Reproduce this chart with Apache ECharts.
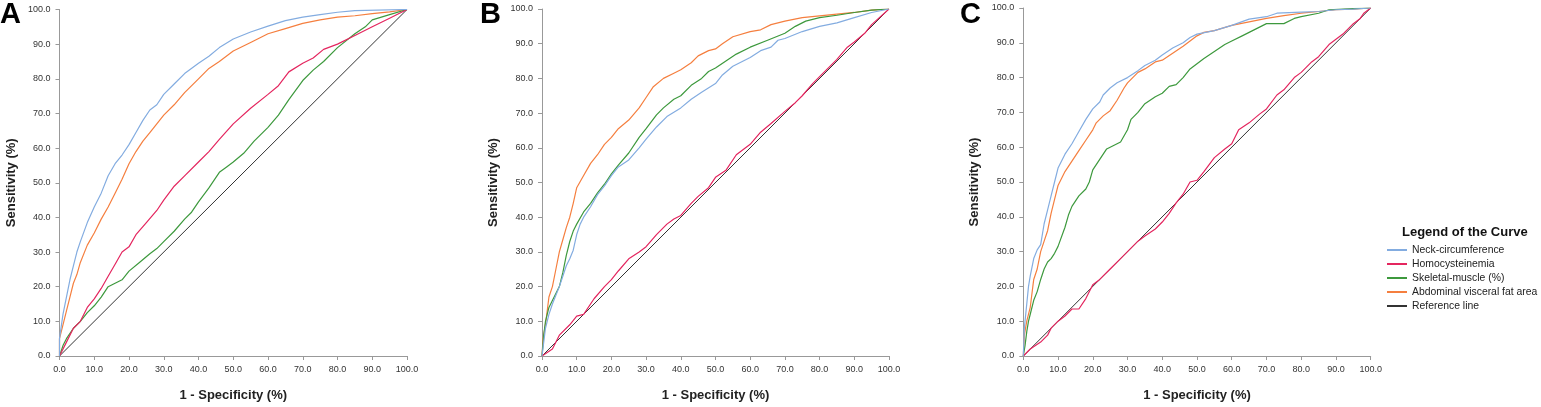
<!DOCTYPE html>
<html>
<head>
<meta charset="utf-8">
<script src="https://cdn.jsdelivr.net/npm/echarts@6/dist/echarts.min.js"></script>
<style>
  html, body { margin: 0; padding: 0; background: #fff; }
  #main { width: 1541px; height: 407px; }
</style>
</head>
<body>
<div id="main"></div>
<script>
// curve names, in legend order
var curveNames = ['Neck-circumference', 'Homocysteinemia', 'Skeletal-muscle (%)', 'Abdominal visceral fat area', 'Reference line'];
var curveColors = ['#83ace0', '#e4265f', '#3d993d', '#f57f3f', '#333333'];
var panelLabels = ['A', 'B', 'C'];

// [1 - specificity, sensitivity]
// panel A
var aNeck = [[0,0],[0,5],[1,12],[2,17],[3,22],[4,26],[5,30],[6,33],[8,38.5],[10,43],[12,47],[14,52],[16,55.5],[18,58],[20,61],[22,64.5],[24,68],[26,71],[28,72.5],[30,75.5],[33,78.5],[36,81.5],[40,84.5],[43,86.5],[46,89],[50,91.5],[55,93.5],[60,95.2],[65,96.8],[70,97.8],[75,98.5],[80,99.2],[85,99.7],[100,100]];
var aHcy = [[0,0],[2,4],[4,8],[6,10],[8,14],[10,16.5],[12,19.5],[14,23],[16,26.5],[18,30],[20,31.5],[22,35],[25,38.5],[28,42],[30,45],[33,49],[36,52],[40,56],[43,59],[46,62.5],[50,67],[55,71.5],[60,75.5],[63,78],[66,82],[70,84.5],[73,86],[76,88.5],[80,90],[85,92.5],[90,95],[95,97.5],[100,100]];
var aMuscle = [[0,0],[1,3],[2,5],[4,8],[6,10],[8,12.5],[10,14.5],[12,17],[14,20],[16,21],[18,22],[20,24.5],[23,27],[26,29.5],[28,31],[30,33],[33,36],[36,39.5],[38,41.5],[40,44.5],[43,48.5],[46,53],[48,54.5],[50,56],[53,58.5],[56,62],[60,66],[63,69.5],[66,74],[70,79.5],[73,82.5],[76,85],[80,89],[85,93],[88,95],[90,97],[95,98.5],[100,100]];
var aFat = [[0,0],[0,5],[1,9],[2,13],[3,17],[4,21],[5,23.5],[6,27],[8,32],[10,35.5],[12,39.5],[14,43],[16,47],[18,51],[20,55.5],[22,59],[24,62],[26,64.5],[28,67],[30,69.5],[33,72.5],[36,76],[40,80],[43,83],[46,85],[50,88],[55,90.5],[60,93],[65,94.5],[70,96],[75,97],[80,97.8],[85,98.2],[90,98.8],[95,99.3],[100,100]];

// panel B
var bNeck = [[0,0],[0.5,4],[1,8],[2,12],[3,15],[4,17.5],[5,20],[6,23],[7,26],[8,28],[9,30.5],[10,35],[11,38],[12,40],[14,43],[16,46.5],[18,49],[20,52],[22,54.5],[25,56.5],[28,60],[30,62.5],[33,66],[36,69],[40,71.5],[43,74],[46,76],[50,78.5],[52,81],[55,83.5],[58,85],[60,86],[63,88],[66,89],[68,91],[70,91.5],[75,93.5],[80,95],[85,96],[90,97.5],[95,99],[100,100]];
var bHcy = [[0,0],[3,2],[5,6],[8,9],[10,11.5],[12,12],[15,16.5],[18,20],[20,22],[22,24.5],[25,28],[28,30],[30,31.5],[33,35],[36,38],[38,39.5],[40,40.5],[43,44],[45,46],[48,48.5],[50,51.5],[53,53.5],[56,58],[58,59.5],[60,61],[63,64.5],[66,67],[70,70.5],[73,73],[75,75],[78,78.5],[80,80.5],[85,85.5],[88,89],[90,90.5],[93,93],[95,95.5],[100,100]];
var bMuscle = [[0,0],[0.5,6],[1,10],[2,14],[3,16],[4,18],[5,20],[6,24],[7,29],[8,33],[9,36],[10,38],[12,41.5],[14,44],[16,47],[18,49.5],[20,52.5],[22,55],[25,58.5],[28,63],[30,65.5],[33,69.5],[35,71.5],[38,74],[40,75],[43,78],[46,80],[48,82],[50,83],[53,85],[56,87],[60,89],[65,91],[70,93],[73,95],[76,96.5],[80,97.5],[85,98.2],[90,99],[95,99.7],[100,100]];
var bFat = [[0,0],[0.3,5],[1,9],[2,17],[3,20],[4,25],[5,30],[6,33.5],[7,37],[8,40],[9,44],[10,48.5],[12,52],[14,55.5],[16,58],[18,61],[20,63],[22,65.5],[25,68],[28,71.5],[30,74.5],[32,77.5],[35,80],[38,81.5],[40,82.5],[43,84.5],[45,86.5],[48,88],[50,88.5],[52,90],[55,92],[60,93.5],[63,94],[66,95.5],[70,96.5],[75,97.5],[80,98],[85,98.5],[90,99],[95,99.7],[100,100]];

// panel C
var cNeck = [[0,0],[0.3,8],[1,15],[1.5,20],[2,23],[3,28],[4,30.5],[5,32],[6,38],[7,42],[8,46],[9,50],[10,54],[12,58],[14,61],[16,64.5],[18,68],[20,71],[22,73],[23,75],[25,77],[27,78.5],[30,80],[33,82],[35,83.5],[38,85],[40,86.5],[43,88.5],[46,90],[48,91.5],[50,92.5],[55,93.5],[60,95],[65,96.8],[70,97.5],[73,98.5],[80,98.8],[85,99],[90,99.5],[95,99.7],[100,100]];
var cHcy = [[0,0],[2,2],[5,4],[7,6],[8,8],[10,10],[12,11.5],[14,13.5],[16,13.5],[18,16.5],[20,20.5],[22,22],[25,25],[28,28],[30,30],[33,33],[35,34.5],[38,36.5],[40,38.5],[42,41],[44,44],[46,46.5],[48,50],[50,50.5],[52,53],[55,57],[58,59.5],[60,61],[62,65],[65,67],[68,69.5],[70,71],[73,75],[75,76.5],[78,80],[80,81.5],[83,84.5],[85,86],[88,89.5],[90,91],[92,92.5],[95,95.5],[97,97],[98,98.5],[100,100]];
var cMuscle = [[0,0],[0.5,3],[1,7],[1.5,10],[2,12],[3,16],[4,18.5],[5,22],[6,25],[7,27],[8,28],[9,29.5],[10,31.5],[12,37],[13,40.5],[14,43],[16,46],[18,48],[19,50],[20,53.5],[22,56.5],[24,59.5],[26,60.5],[28,61.5],[30,65],[31,68],[33,70],[35,72.5],[38,74.5],[40,75.5],[42,77.5],[44,78],[46,80],[48,82.5],[50,84],[52,85.5],[55,87.5],[58,89.5],[60,90.5],[63,92],[65,93],[68,94.5],[70,95.5],[75,95.5],[78,97],[80,97.5],[85,98.5],[88,99.5],[95,99.8],[100,100]];
var cFat = [[0,0],[0.3,6],[1,10],[2,14],[3,22],[4,25],[5,30],[6,33],[7,36],[8,41],[9,45],[10,49],[12,53],[14,56],[16,59],[18,62],[20,65],[21,67],[23,69],[25,70.5],[27,73.5],[29,77],[30,78.5],[33,81.5],[35,82.5],[38,84.5],[40,85],[43,87],[46,89],[48,90.5],[50,92],[52,93],[55,93.5],[60,95],[65,96],[70,97],[75,97.8],[80,98.5],[85,99],[90,99.5],[95,99.7],[100,100]];

var refLine = [[0,0],[100,100]];

var panelCurves = [
    [aNeck, aHcy, aMuscle, aFat, refLine],
    [bNeck, bHcy, bMuscle, bFat, refLine],
    [cNeck, cHcy, cMuscle, cFat, refLine]
];

// plot boxes
var grids = [
    {left: 59.5, top: 9.5, width: 347.5, height: 347.5},
    {left: 542, top: 9, width: 347, height: 347.7},
    {left: 1023.3, top: 8, width: 347.4, height: 348}
];
var letterX = [0, 480, 960];

var fontFam = 'Liberation Sans, Arial, sans-serif';

var xAxes = [], yAxes = [], series = [], titles = [];
for (var p = 0; p < 3; p++) {
    xAxes.push({
        gridIndex: p, type: 'value', min: 0, max: 100, interval: 10,
        name: '1 - Specificity (%)', nameLocation: 'middle', nameGap: 33,
        nameTextStyle: {fontFamily: fontFam, fontSize: 13, fontWeight: 'bold', color: '#222'},
        axisLine: {show: true, lineStyle: {color: '#999', width: 1}},
        axisTick: {show: true, length: 4, lineStyle: {color: '#999'}},
        axisLabel: {margin: 9, fontFamily: fontFam, fontSize: 9, color: '#333',
            formatter: function (v) { return v.toFixed(1); }},
        splitLine: {show: false}
    });
    yAxes.push({
        gridIndex: p, type: 'value', min: 0, max: 100, interval: 10,
        name: 'Sensitivity (%)', nameLocation: 'middle', nameGap: 42,
        nameTextStyle: {fontFamily: fontFam, fontSize: 13, fontWeight: 'bold', color: '#222'},
        axisLine: {show: true, lineStyle: {color: '#999', width: 1}},
        axisTick: {show: true, length: 4, lineStyle: {color: '#999'}},
        axisLabel: {margin: 9, fontFamily: fontFam, fontSize: 9, color: '#333',
            formatter: function (v) { return v.toFixed(1); }},
        splitLine: {show: false}
    });
    // reference line drawn first, then curves on top
    for (var k = 4; k >= 0; k--) {
        series.push({
            name: curveNames[k],
            type: 'line',
            xAxisIndex: p, yAxisIndex: p,
            data: panelCurves[p][k],
            showSymbol: false, symbol: 'none',
            lineStyle: {color: curveColors[k], width: k == 4 ? 1 : 1.2},
            itemStyle: {color: curveColors[k]},
            z: k == 4 ? 2 : 3 + (4 - k),
            silent: true
        });
    }
    titles.push({
        text: panelLabels[p], left: letterX[p], top: 0, padding: 0,
        textStyle: {fontFamily: fontFam, fontSize: 29, fontWeight: 'bold', color: '#000'}
    });
}
titles.push({
    text: 'Legend of the Curve', left: 1402, top: 226, padding: 0,
    textStyle: {fontFamily: fontFam, fontSize: 13, fontWeight: 'bold', color: '#111'}
});

var myChart = echarts.init(document.getElementById('main'));
var option = {
    animation: false,
    backgroundColor: '#fff',
    title: titles,
    grid: grids,
    xAxis: xAxes,
    yAxis: yAxes,
    legend: {
        data: curveNames,
        orient: 'vertical',
        left: 1387, top: 244,
        padding: 0,
        itemWidth: 20, itemHeight: 2, itemGap: 2,
        icon: 'rect',
        selectedMode: false,
        textStyle: {fontFamily: fontFam, fontSize: 10.4, color: '#222', lineHeight: 12}
    },
    series: series
};
myChart.setOption(option);
</script>
</body>
</html>
